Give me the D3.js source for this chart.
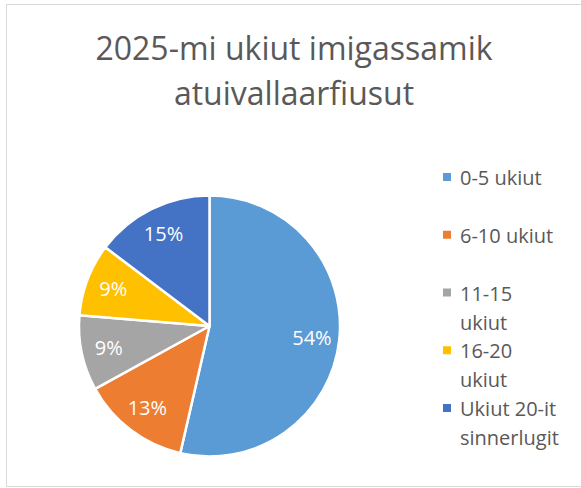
<!DOCTYPE html>
<html>
<head>
<meta charset="utf-8">
<script src="https://cdn.jsdelivr.net/npm/d3@7"></script>
<style>
  body { margin: 0; background: #fff; }
  svg { display: block; font-family: "Open Sans", sans-serif; }
</style>
</head>
<body>
<div id="chart"></div>
<script>
// datos del grafico
const titleLines = ["2025-mi ukiut imigassamik", "atuivallaarfiusut"];
const categories = ["0-5 ukiut", "6-10 ukiut", "11-15 ukiut", "16-20 ukiut", "Ukiut 20-it sinnerlugit"];
const values = [53.6, 13.4, 9.3, 9.0, 14.7];
const labels = ["54%", "13%", "9%", "9%", "15%"];
const colors = ["#5B9BD5", "#ED7D31", "#A5A5A5", "#FFC000", "#4472C4"];

const width = 581;
const height = 488;
const textColor = "#595959";

const svg = d3.select("#chart")
  .append("svg")
  .attr("width", width)
  .attr("height", height);

// borde del area del grafico
svg.append("rect")
  .attr("x", 6.5)
  .attr("y", 4.5)
  .attr("width", width + 10)
  .attr("height", 482)
  .attr("fill", "#fff")
  .attr("stroke", "#d9d9d9")
  .attr("stroke-width", 1);

// titulo
svg.append("g")
  .selectAll("text")
  .data(titleLines)
  .join("text")
  .attr("x", 294)
  .attr("y", (d, i) => 60 + i * 45)
  .attr("text-anchor", "middle")
  .attr("fill", textColor)
  .style("font-size", "32px")
  .text((d) => d);

// pie
const cx = 209.5, cy = 326, radius = 130.5;
const color = d3.scaleOrdinal().domain(categories).range(colors);

const pie = d3.pie().sort(null).value((d) => d.value);
const arcs = pie(categories.map((c, i) => ({ cat: c, value: values[i], label: labels[i] })));

const arc = d3.arc().innerRadius(0).outerRadius(radius);
const labelArc = d3.arc().innerRadius(radius * 0.79).outerRadius(radius * 0.79);

const gPie = svg.append("g").attr("transform", `translate(${cx},${cy})`);

gPie.selectAll("path")
  .data(arcs)
  .join("path")
  .attr("d", arc)
  .attr("fill", (d) => color(d.data.cat))
  .attr("stroke", "#fff")
  .attr("stroke-width", 2.5)
  .attr("stroke-linejoin", "round");

gPie.selectAll("text")
  .data(arcs)
  .join("text")
  .attr("transform", (d) => `translate(${labelArc.centroid(d)})`)
  .attr("text-anchor", "middle")
  .attr("dy", "0.35em")
  .attr("fill", "#fff")
  .style("font-size", "20px")
  .text((d) => d.data.label);

// leyenda
const legendY = d3.scalePoint().domain(categories).range([185, 416]);
const legend = svg.append("g");

const items = legend.selectAll("g")
  .data(categories)
  .join("g")
  .attr("transform", (d) => `translate(0,${legendY(d)})`);

items.append("rect")
  .attr("x", 443)
  .attr("y", -12)
  .attr("width", 8)
  .attr("height", 8)
  .attr("fill", (d) => color(d));

const legendText = items.append("text")
  .attr("x", 460)
  .attr("fill", textColor)
  .style("font-size", "20px");

// partir las etiquetas largas en varias lineas
legendText.each(function (d) {
  const t = d3.select(this);
  const words = d.split(" ");
  let line = [];
  let lineNo = 0;
  let tspan = t.append("tspan").attr("x", 460).attr("y", 0);
  words.forEach((w) => {
    line.push(w);
    tspan.text(line.join(" "));
    if (tspan.node().getComputedTextLength() > 100 && line.length > 1) {
      line.pop();
      tspan.text(line.join(" "));
      line = [w];
      lineNo++;
      tspan = t.append("tspan").attr("x", 460).attr("y", lineNo * 29).text(w);
    }
  });
});
</script>
</body>
</html>
